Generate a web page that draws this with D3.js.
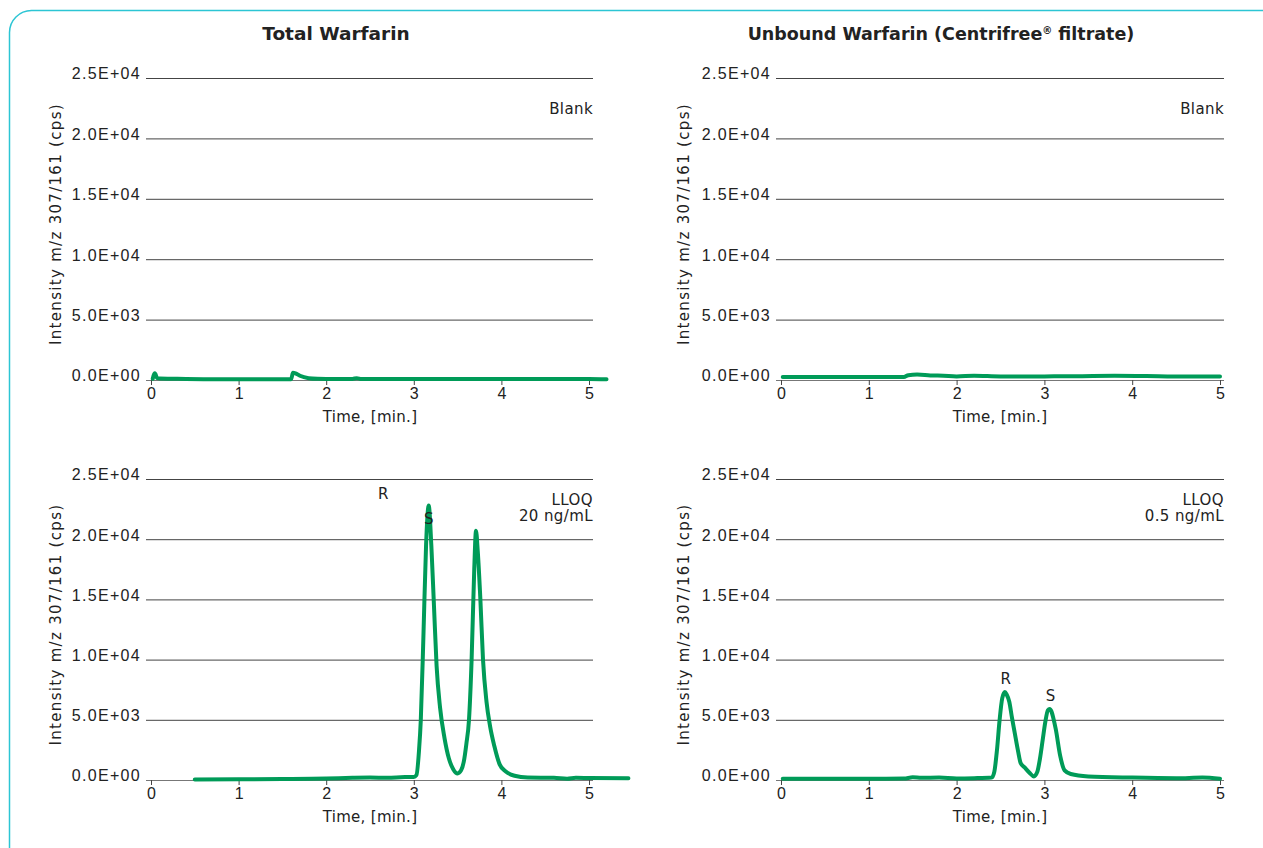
<!DOCTYPE html>
<html>
<head>
<meta charset="utf-8">
<script src="https://d3js.org/d3.v7.min.js"></script>
<style>
  body { margin: 0; background: #fff; }
  svg { font-family: "DejaVu Sans", Verdana, sans-serif; }
  .tick text { fill: #222; }
</style>
</head>
<body>
<div id="chart"></div>
<script>
// chromatogram traces (time in min, intensity in cps)
var totalBlankT = [0.02, 0.04, 0.05, 0.07, 0.1, 0.3, 0.6, 1.0, 1.5, 1.6, 1.62, 1.65, 1.7, 1.8, 1.9, 2.1, 2.3, 2.35, 2.4, 3.0, 4.0, 5.0, 5.2];
var totalBlankI = [100, 550, 500, 150, 120, 100, 70, 60, 60, 60, 600, 550, 350, 150, 100, 80, 90, 150, 80, 80, 80, 80, 60];

var unboundBlankT = [0.02, 0.5, 1.0, 1.4, 1.45, 1.55, 1.7, 1.85, 2.0, 2.2, 2.5, 3.0, 3.4, 3.8, 4.4, 4.8, 5.0];
var unboundBlankI = [250, 240, 240, 250, 400, 450, 380, 350, 300, 350, 300, 300, 320, 350, 300, 280, 280];

var totalLloqT = [0.5, 1.0, 1.5, 2.0, 2.3, 2.5, 2.7, 2.9, 3.0, 3.03, 3.06, 3.08, 3.11, 3.14, 3.17, 3.20, 3.23, 3.26, 3.30, 3.35, 3.40, 3.45, 3.50, 3.54, 3.57, 3.60, 3.63, 3.66, 3.69, 3.71, 3.73, 3.76, 3.79, 3.83, 3.87, 3.92, 3.98, 4.05, 4.15, 4.3, 4.6, 4.75, 4.85, 5.0, 5.45];
var totalLloqI = [50, 60, 80, 120, 180, 200, 180, 250, 250, 400, 2500, 5000, 12000, 19500, 22800, 19500, 14500, 9500, 6000, 3500, 1800, 900, 550, 800, 1500, 3000, 5000, 10000, 17500, 20700, 19000, 15000, 10000, 6500, 4500, 2800, 1300, 700, 350, 200, 180, 100, 180, 170, 150];

var unboundLloqT = [0.02, 0.5, 1.0, 1.4, 1.5, 1.6, 1.8, 2.0, 2.2, 2.4, 2.43, 2.46, 2.49, 2.52, 2.55, 2.57, 2.60, 2.63, 2.66, 2.70, 2.73, 2.78, 2.83, 2.88, 2.92, 2.95, 2.98, 3.01, 3.04, 3.06, 3.08, 3.10, 3.13, 3.18, 3.23, 3.3, 3.5, 4.0, 4.5, 4.8, 5.0];
var unboundLloqI = [100, 100, 110, 120, 220, 180, 200, 130, 150, 200, 700, 2500, 5000, 6800, 7300, 7100, 6500, 5200, 4000, 2400, 1400, 1000, 600, 300, 700, 1800, 3300, 4800, 5800, 5900, 5700, 5200, 4200, 2000, 800, 500, 300, 200, 150, 200, 100];

var yTicks = [0, 5000, 10000, 15000, 20000, 25000];
var xTicks = [0, 1, 2, 3, 4, 5];

var titles = ["Total Warfarin", "Unbound Warfarin (Centrifree"];

var W = 1263, H = 848;
var green = "#009b58";

var svg = d3.select("#chart").append("svg")
    .attr("width", W)
    .attr("height", H);

// rounded frame
svg.append("rect")
    .attr("x", 9.5).attr("y", 10.5)
    .attr("width", 1280).attr("height", 870)
    .attr("rx", 22).attr("ry", 22)
    .style("fill", "none")
    .style("stroke", "#2cc5d4")
    .style("stroke-width", 1.5);

var cols = [
    {x0: 151, x1: 589, g0: 146, g1: 593, ylab: 56, xlab: 370},
    {x0: 781, x1: 1220, g0: 776, g1: 1224, ylab: 684, xlab: 1000}
];
var rows = [
    {y0: 380, y1: 78},
    {y0: 780, y1: 479}
];

var panels = [
    {c: 0, r: 0, t: totalBlankT, v: totalBlankI, note: ["Blank"],
     marks: []},
    {c: 1, r: 0, t: unboundBlankT, v: unboundBlankI, note: ["Blank"],
     marks: []},
    {c: 0, r: 1, t: totalLloqT, v: totalLloqI, note: ["LLOQ", "20 ng/mL"],
     marks: [{s: "R", t: 2.65, i: 23300}, {s: "S", t: 3.17, i: 21300}]},
    {c: 1, r: 1, t: unboundLloqT, v: unboundLloqI, note: ["LLOQ", "0.5 ng/mL"],
     marks: [{s: "R", t: 2.56, i: 7950}, {s: "S", t: 3.07, i: 6550}]}
];

function sci(d) {
    if (d === 0) return "0.0E+00";
    var e = Math.floor(Math.log10(d));
    var m = d / Math.pow(10, e);
    return m.toFixed(1) + "E+" + (e < 10 ? "0" + e : e);
}

panels.forEach(function(p) {
    var col = cols[p.c], row = rows[p.r];
    var x = d3.scaleLinear().domain([0, 5]).range([col.x0, col.x1]);
    var y = d3.scaleLinear().domain([0, 25000]).range([row.y0, row.y1]);
    var g = svg.append("g");

    // y gridlines + labels
    var yAx = g.append("g")
        .attr("transform", "translate(" + col.g0 + ",0)")
        .call(d3.axisLeft(y).tickValues(yTicks).tickFormat(sci)
            .tickSize(-(col.g1 - col.g0)).tickPadding(5));
    yAx.select(".domain").remove();
    yAx.selectAll(".tick line")
        .style("stroke", function(d) { return d === 0 ? "#777" : "#444"; })
        .style("stroke-width", 1);
    yAx.selectAll(".tick text")
        .attr("dy", "0.05em")
        .style("font-size", "16px")
        .style("letter-spacing", "1.3px");

    // x ticks
    var xAx = g.append("g")
        .attr("transform", "translate(0," + row.y0 + ")")
        .call(d3.axisBottom(x).tickValues(xTicks).tickFormat(d3.format("d"))
            .tickSize(5).tickPadding(3));
    xAx.select(".domain").remove();
    xAx.selectAll(".tick line").style("stroke", "#444");
    xAx.selectAll(".tick text").style("font-size", "16px");

    // axis titles
    g.append("text")
        .attr("x", col.xlab).attr("y", row.y0 + 42)
        .attr("text-anchor", "middle")
        .style("font-size", "15px").style("fill", "#222")
        .style("letter-spacing", "0.3px")
        .text("Time, [min.]");
    g.append("text")
        .attr("transform", "translate(" + (col.ylab + 5) + "," + ((row.y0 + row.y1) / 2 - 5) + ") rotate(-90)")
        .attr("text-anchor", "middle")
        .style("font-size", "15px").style("fill", "#222")
        .style("letter-spacing", "1.3px")
        .text("Intensity m/z 307/161 (cps)");

    // trace
    var pts = p.t.map(function(t, i) { return [t, p.v[i]]; });
    var line = d3.line()
        .x(function(d) { return x(d[0]); })
        .y(function(d) { return y(d[1]); })
        .curve(d3.curveMonotoneX);
    g.append("path")
        .datum(pts)
        .attr("d", line)
        .style("fill", "none")
        .style("stroke", green)
        .style("stroke-width", 4)
        .style("stroke-linejoin", "round")
        .style("stroke-linecap", "round");

    // sample note
    p.note.forEach(function(s, k) {
        g.append("text")
            .attr("x", col.g1).attr("y", row.y1 + (p.note.length > 1 ? 26 : 36) + k * 16)
            .attr("text-anchor", "end")
            .style("font-size", "15px").style("fill", "#222")
            .style("letter-spacing", "0.4px")
            .text(s);
    });

    // enantiomer labels
    p.marks.forEach(function(m) {
        g.append("text")
            .attr("x", x(m.t)).attr("y", y(m.i))
            .attr("text-anchor", "middle")
            .style("font-size", "15px").style("fill", "#222")
            .text(m.s);
    });
});

// column titles
svg.append("text")
    .attr("x", 336).attr("y", 40)
    .attr("text-anchor", "middle")
    .style("font-size", "18.5px").style("font-weight", "bold").style("fill", "#222")
    .text(titles[0]);
var t2 = svg.append("text")
    .attr("x", 941).attr("y", 40)
    .attr("text-anchor", "middle")
    .style("font-size", "17.5px").style("font-weight", "bold").style("fill", "#222");
t2.append("tspan").text(titles[1]);
t2.append("tspan").attr("dy", -6).style("font-size", "10px").text("®");
t2.append("tspan").attr("dy", 6).text(" filtrate)");
</script>
</body>
</html>
